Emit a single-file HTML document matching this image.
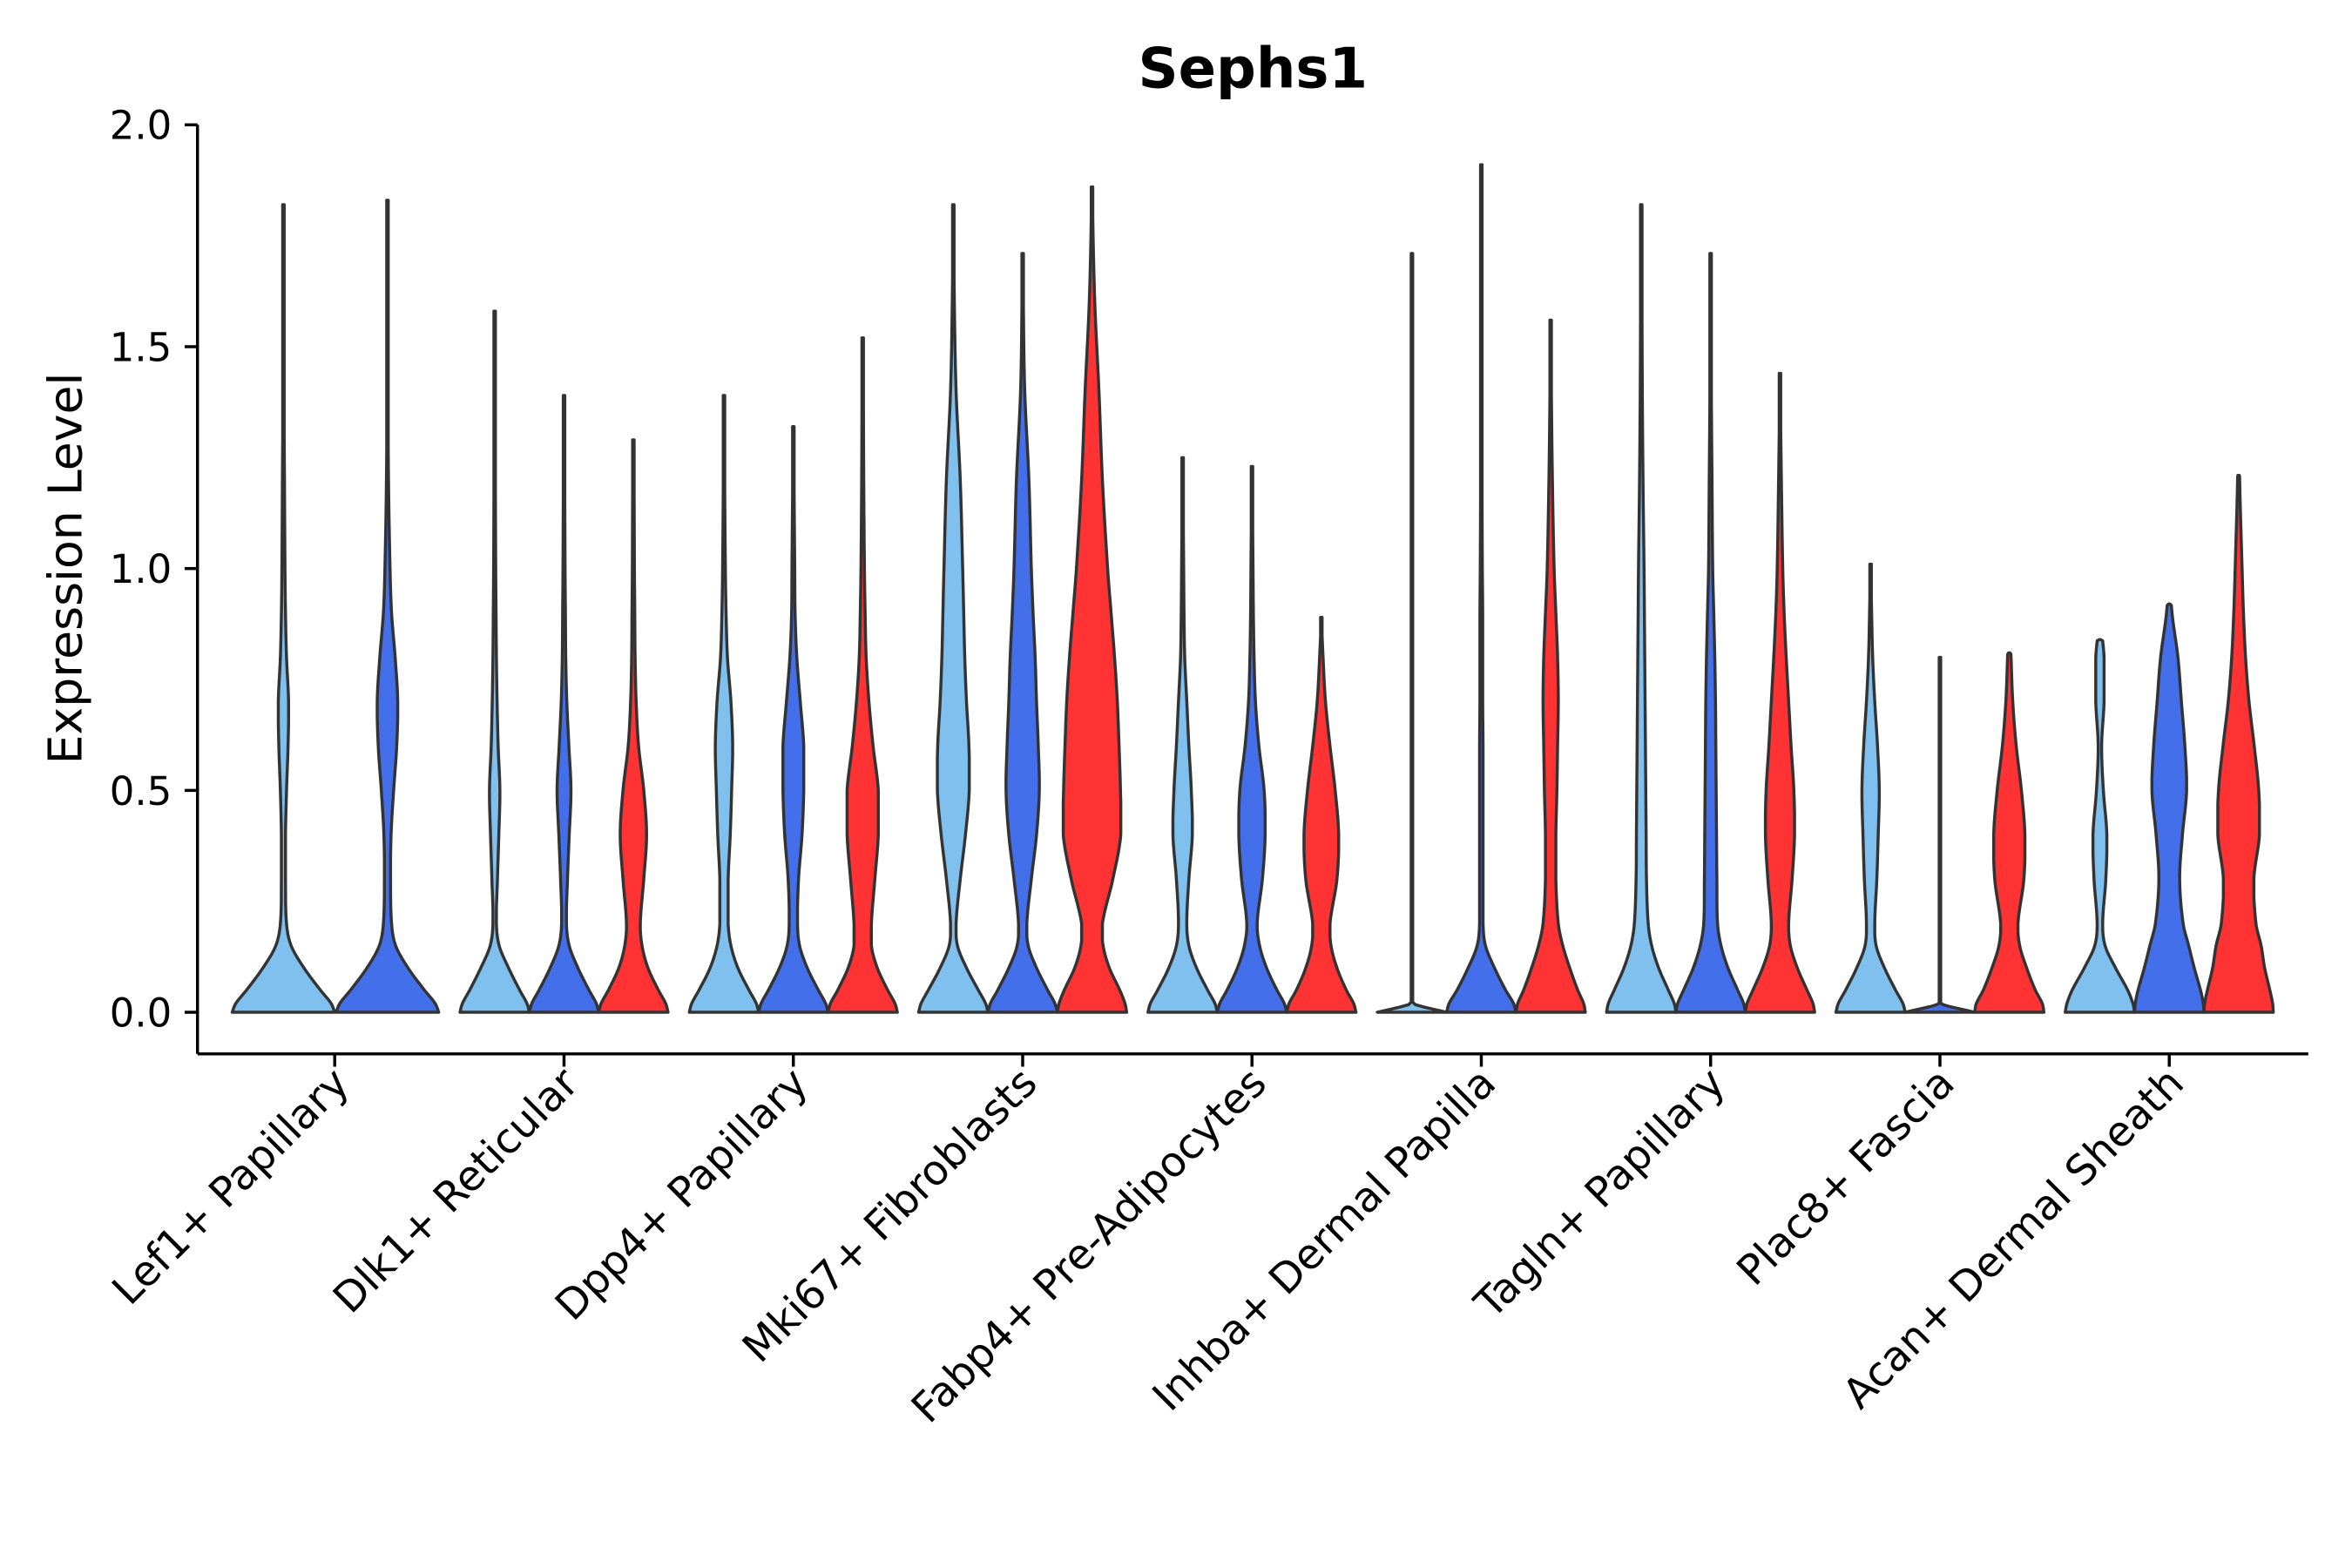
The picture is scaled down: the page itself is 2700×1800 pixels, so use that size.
<!DOCTYPE html>
<html><head><meta charset="utf-8"><style>
html,body{margin:0;padding:0;background:#fff}
svg{display:block;font-family:"DejaVu Sans","Liberation Sans",sans-serif}
</style></head><body>
<svg id="chart" width="2700" height="1800" viewBox="0 0 1560 1040" xmlns="http://www.w3.org/2000/svg">
<rect width="1560" height="1040" fill="#fff"/>
<text x="831" y="58" text-anchor="middle" font-size="37" font-weight="bold">Sephs1</text>
<text transform="translate(54,377) rotate(-90)" text-anchor="middle" font-size="31">Expression Level</text>
<g id="axes"></g>
<g id="violins"></g>
</svg>
<script>
const categories = ["Lef1+ Papillary","Dlk1+ Reticular","Dpp4+ Papillary","Mki67+ Fibroblasts","Fabp4+ Pre-Adipocytes","Inhba+ Dermal Papilla","Tagln+ Papillary","Plac8+ Fascia","Acan+ Dermal Sheath"];
const yTicks = [0,0.5,1.0,1.5,2.0];
const yTickLabels = ["0.0","0.5","1.0","1.5","2.0"];
const seriesColors = ["#80c0ee","#4370ea","#ff3333"];
const yGrid = [0,0.02,0.05,0.1,0.15,0.2,0.3,0.4,0.5,0.6,0.7,0.8,0.9,1.0,1.2,1.4,1.6,1.8,2.0];
// each violin: [categoryIndex, seriesIndex, maxValue]
const violinMeta = [
 [0,0,1.82],[0,1,1.83],
 [1,0,1.58],[1,1,1.39],[1,2,1.29],
 [2,0,1.39],[2,1,1.32],[2,2,1.52],
 [3,0,1.82],[3,1,1.71],[3,2,1.86],
 [4,0,1.25],[4,1,1.23],[4,2,0.89],
 [5,0,1.71],[5,1,1.91],[5,2,1.56],
 [6,0,1.82],[6,1,1.71],[6,2,1.44],
 [7,0,1.01],[7,1,0.80],[7,2,0.81],
 [8,0,0.84],[8,1,0.92],[8,2,1.21]
];
// relative half-width density on yGrid
const violinDensity = [
 [1,0.93,0.72,0.4,0.15,0.06,0.04,0.04,0.06,0.09,0.1,0.06,0.04,0.03,0.02,0.01,0.01,0.01,0],
 [1,0.93,0.72,0.4,0.16,0.08,0.06,0.07,0.12,0.18,0.2,0.15,0.08,0.05,0.02,0.01,0.01,0.01,0],
 [1,0.93,0.72,0.4,0.13,0.05,0.08,0.12,0.15,0.1,0.07,0.05,0.04,0.03,0.02,0.01,0.01,0,0],
 [1,0.93,0.72,0.4,0.15,0.07,0.1,0.15,0.2,0.14,0.08,0.05,0.04,0.03,0.02,0.01,0,0,0],
 [1,0.93,0.72,0.42,0.25,0.2,0.3,0.38,0.3,0.15,0.08,0.05,0.04,0.03,0.02,0,0,0,0],
 [1,0.93,0.72,0.4,0.2,0.12,0.12,0.18,0.22,0.25,0.2,0.1,0.06,0.04,0.02,0.01,0,0,0],
 [1,0.93,0.72,0.4,0.18,0.12,0.15,0.25,0.3,0.3,0.2,0.1,0.05,0.04,0.02,0.01,0,0,0],
 [1,0.93,0.72,0.42,0.25,0.25,0.35,0.45,0.45,0.3,0.18,0.1,0.07,0.05,0.03,0.02,0.01,0,0],
 [1,0.93,0.72,0.38,0.12,0.08,0.2,0.35,0.46,0.45,0.38,0.33,0.3,0.27,0.2,0.08,0.03,0.01,0],
 [1,0.93,0.72,0.4,0.16,0.12,0.25,0.4,0.48,0.45,0.4,0.36,0.3,0.25,0.18,0.06,0.02,0,0],
 [1,0.95,0.8,0.5,0.32,0.3,0.6,0.83,0.82,0.78,0.73,0.65,0.55,0.45,0.3,0.2,0.08,0.02,0],
 [1,0.93,0.72,0.4,0.18,0.12,0.18,0.28,0.25,0.18,0.12,0.06,0.04,0.03,0.01,0,0,0,0],
 [1,0.93,0.72,0.42,0.22,0.15,0.3,0.38,0.35,0.2,0.1,0.06,0.04,0.03,0.01,0,0,0,0],
 [1,0.93,0.72,0.45,0.28,0.25,0.45,0.5,0.4,0.25,0.12,0.05,0,0,0,0,0,0,0],
 [1,0.02,0.01,0.01,0.01,0.01,0.01,0.01,0.01,0.01,0.01,0.01,0.01,0.01,0.01,0.01,0.01,0,0],
 [1,0.93,0.7,0.38,0.12,0.05,0.05,0.05,0.05,0.05,0.04,0.04,0.04,0.03,0.02,0.02,0.01,0.01,0],
 [1,0.95,0.78,0.55,0.35,0.22,0.15,0.15,0.18,0.2,0.22,0.2,0.15,0.1,0.05,0.02,0,0,0],
 [1,0.95,0.78,0.5,0.3,0.2,0.15,0.14,0.13,0.12,0.11,0.1,0.09,0.08,0.05,0.03,0.02,0.01,0],
 [1,0.95,0.78,0.5,0.3,0.2,0.18,0.17,0.16,0.15,0.14,0.12,0.09,0.06,0.04,0.02,0.01,0,0],
 [1,0.95,0.78,0.5,0.3,0.25,0.35,0.42,0.4,0.32,0.25,0.18,0.12,0.08,0.04,0.01,0,0,0],
 [1,0.93,0.72,0.4,0.16,0.12,0.18,0.22,0.25,0.2,0.12,0.06,0.03,0.01,0,0,0,0,0],
 [1,0.02,0.01,0.01,0.01,0.01,0.01,0.01,0.01,0.01,0.01,0.01,0,0,0,0,0,0,0],
 [1,0.95,0.75,0.5,0.3,0.25,0.42,0.45,0.35,0.2,0.1,0.05,0,0,0,0,0,0,0],
 [1,0.95,0.8,0.45,0.15,0.08,0.17,0.2,0.1,0.05,0.12,0.12,0,0,0,0,0,0,0],
 [1,0.98,0.9,0.72,0.56,0.4,0.3,0.38,0.5,0.45,0.35,0.25,0.08,0,0,0,0,0,0],
 [1,0.98,0.9,0.75,0.65,0.5,0.44,0.6,0.58,0.45,0.3,0.2,0.14,0.1,0.03,0,0,0,0]
];
const NS="http://www.w3.org/2000/svg";
const x0=131,x1=1531,yAxBottom=699,yTop=82.8,yZero=671.4;
const yScale=v=>yZero-(v/2.0)*(yZero-yTop);
const xCenter=i=>222+152.1*i;
const axes=document.getElementById('axes');
const vg=document.getElementById('violins');
function mk(tag,attrs,parent){const e=document.createElementNS(NS,tag);for(const k in attrs)e.setAttribute(k,attrs[k]);parent.appendChild(e);return e;}
let l=mk('line',{x1:x0,y1:yTop,x2:x0,y2:yAxBottom,stroke:'#000','stroke-width':2},axes);


l=mk('line',{x1:x0,y1:yAxBottom,x2:x1,y2:yAxBottom,stroke:'#000','stroke-width':2},axes);


yTicks.forEach((v,i)=>{
 const y=yScale(v);
 const t=mk('line',{x1:x0-8.5,y1:y,x2:x0,y2:y,stroke:'#000','stroke-width':2},axes);
 
 
 const tx=mk('text',{x:x0-17,y:y+9.5,'text-anchor':'end','font-size':26},axes);
 tx.textContent=yTickLabels[i];
 
 
});
categories.forEach((c,i)=>{
 const x=xCenter(i);
 const t=mk('line',{x1:x,y1:yAxBottom,x2:x,y2:yAxBottom+8.5,stroke:'#000','stroke-width':2},axes);
 
 
 const tx=mk('text',{transform:`translate(${x+11},${yAxBottom+21}) rotate(-45)`,'text-anchor':'end','font-size':27.5},axes);
 tx.textContent=c;
 
 
});
function dens(d,v){
 const n=yGrid.length;
 for(let k=0;k<n-1;k++){if(v<=yGrid[k+1]){
  const f=(v-yGrid[k])/(yGrid[k+1]-yGrid[k]);
  const p0=d[Math.max(k-1,0)],p1=d[k],p2=d[k+1],p3=d[Math.min(k+2,n-1)];
  const h=yGrid[k+1]-yGrid[k];
  const m1=(k>0?(p2-p0)/(yGrid[k+1]-yGrid[k-1]):(p2-p1)/h)*h;
  const m2=(k+2<n?(p3-p1)/(yGrid[k+2]-yGrid[k]):(p2-p1)/h)*h;
  const t=f,t2=t*t,t3=t2*t;
  let r=(2*t3-3*t2+1)*p1+(t3-2*t2+t)*m1+(-2*t3+3*t2)*p2+(t3-t2)*m2;
  const lo=Math.min(p1,p2),hi=Math.max(p1,p2);
  return Math.min(Math.max(r,lo),hi);
 }}
 return d[n-1];
}
violinMeta.forEach((m,j)=>{
 const [ci,si,mx]=m;
 const nInCat=violinMeta.filter(q=>q[0]===ci).length;
 const hw=nInCat===2?34:23;
 const cx=nInCat===2?xCenter(ci)+(si===0?-34:35):xCenter(ci)+(si-1)*46;
 const d=violinDensity[j];
 const steps=300,right=[],left=[];
 for(let s=0;s<=steps;s++){
  const v=mx*s/steps;
  let w=dens(d,v)*hw; if(s===steps)w=0; w=Math.max(w,0.5);
  right.push([cx+w,yScale(v)]);left.push([cx-w,yScale(v)]);
 }
 const pts=right.concat(left.reverse());
 const p=mk('path',{d:'M'+pts.map(q=>q[0].toFixed(2)+','+q[1].toFixed(2)).join('L')+'Z',fill:seriesColors[si],stroke:'#333','stroke-width':2,'stroke-linejoin':'round'},vg);
 
 
});
</script>
</body></html>
